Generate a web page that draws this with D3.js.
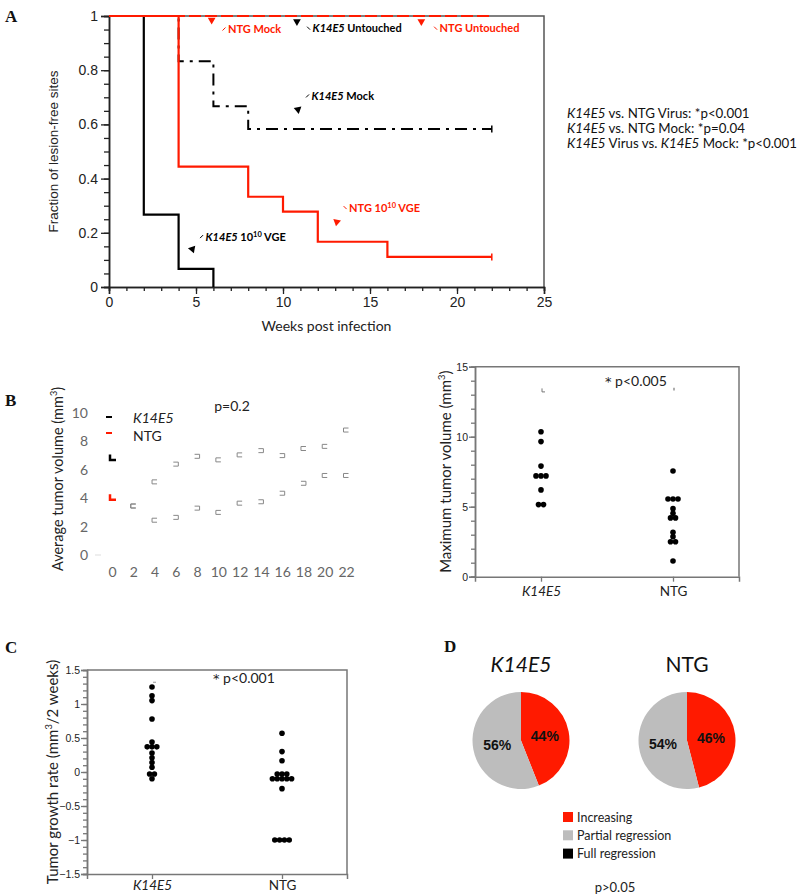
<!DOCTYPE html>
<html><head><meta charset="utf-8">
<script src="https://cdn.jsdelivr.net/npm/d3@7"></script>
<style>body{margin:0;background:#fff}svg{display:block}</style>
</head><body>
<svg id="c" width="800" height="895"></svg>
<script>
// ================= DATA =================
// Panel A: Kaplan-Meier style step curves
const aTicksX = [0, 5, 10, 15, 20, 25];
const aTicksY = [0, 0.2, 0.4, 0.6, 0.8, 1];
const k14VgeTimes = [0, 2, 4, 6];
const k14VgeSurv  = [1, 0.267, 0.067, 0];
const ntgVgeTimes = [0, 4, 8, 10, 12, 16, 22];
const ntgVgeSurv  = [1, 0.444, 0.333, 0.278, 0.167, 0.111, 0.111];
const k14MockTimes = [0, 4, 6, 8, 22];
const k14MockSurv  = [1, 0.833, 0.667, 0.583, 0.583];
const ntgMockTimes = [0, 22];
const ntgMockSurv  = [1, 1];
const statLines = [
  [["K14E5", true], [" vs. NTG Virus: *p<0.001", false]],
  [["K14E5", true], [" vs. NTG Mock: *p=0.04", false]],
  [["K14E5", true], [" Virus vs. ", false], ["K14E5", true], [" Mock: *p<0.001", false]]
];
// annotation labels (arrow tip and label anchor in data units)
const annotations = [
  {parts: [["NTG Mock", false]], red: true, ax: 5.9, ay: 0.985, tx: 6.84, ty: 0.952, rot: 180, slash: "/"},
  {parts: [["K14E5", true], [" Untouched", false]], red: false, ax: 10.8, ay: 0.98, tx: 11.7, ty: 0.955, rot: 180, slash: "\\"},
  {parts: [["NTG Untouched", false]], red: true, ax: 17.95, ay: 0.98, tx: 19.0, ty: 0.955, rot: 180, slash: "\\"},
  {parts: [["K14E5", true], [" Mock", false]], red: false, ax: 10.86, ay: 0.655, tx: 11.64, ty: 0.705, rot: 50, slash: "/"},
  {parts: [["NTG 10", false], ["10", "sup"], [" VGE", false]], red: true, ax: 13.09, ay: 0.24, tx: 13.8, ty: 0.293, rot: 70, slash: "\\"},
  {parts: [["K14E5", true], [" 10", false], ["10", "sup"], [" VGE", false]], red: false, ax: 4.79, ay: 0.14, tx: 5.55, ty: 0.186, rot: 40, slash: "/"}
];

// Panel B (left): average tumor volume over time
const bWeeks = [0, 2, 4, 6, 8, 10, 12, 14, 16, 18, 20, 22];
const bYTicks = [0, 2, 4, 6, 8, 10];
const bK14Avg = [6.8, 3.45, 5.15, 6.4, 6.95, 6.7, 7.05, 7.35, 7.0, 7.5, 7.65, 8.8];
const bNtgAvg = [4.0, 3.45, 2.45, 2.65, 3.3, 3.0, 3.65, 3.75, 4.35, 5.05, 5.6, 5.6];
const bK14Open = ["r", "r", "r", "l", "l", "r", "r", "l", "l", "r", "r", "r"];
const bNtgOpen = ["r", "r", "r", "l", "l", "r", "r", "l", "l", "l", "r", "r"];

// Panel B (right): maximum tumor volume
const groups = ["K14E5", "NTG"];
const maxK14 = [10.35, 9.65, 7.9, 7.2, 7.2, 7.2, 6.2, 5.15, 5.15];
const maxNtg = [7.55, 5.55, 5.55, 5.55, 4.86, 4.53, 4.2, 4.2, 3.17, 2.86, 2.5, 2.5, 1.12];
const maxTicks = [0, 5, 10, 15];

// Panel C: tumor growth rate
const grK14 = [1.25, 1.12, 1.05, 0.78, 0.44, 0.37, 0.37, 0.37, 0.28, 0.21, 0.14, 0.07, -0.03, -0.03, -0.1];
const grNtg = [0.57, 0.3, 0.165, -0.03, -0.03, -0.03, -0.1, -0.1, -0.1, -0.1, -0.1, -0.245, -1, -1, -1, -1];
const grTicks = [-1.5, -1, -0.5, 0, 0.5, 1, 1.5];

// Panel D: outcome pies
const outcomes = ["Increasing", "Partial regression", "Full regression"];
const pieK14 = [44, 56, 0];
const pieNtg = [46, 54, 0];

// ================= DRAW =================
const svg = d3.select("#c");
const SANS = "'Liberation Sans', Arial, sans-serif";
const CAL = "Lato, 'Open Sans', sans-serif";
const RED = "#ff1a00";

function richText(sel, parts, supSize) {
  let pending = 0;
  parts.forEach(([t, f]) => {
    if (f === "sup") {
      sel.append("tspan").attr("font-size", supSize).attr("dy", pending - 4).text(t);
      pending = 4;
    } else {
      sel.append("tspan").attr("font-style", f ? "italic" : "normal").attr("dy", pending).text(t);
      pending = 0;
    }
  });
  return sel;
}
function panelLetter(t, x, y) {
  svg.append("text").attr("x", x).attr("y", y).text(t)
    .attr("font-family", "'Liberation Serif', 'Times New Roman', serif")
    .attr("font-weight", "bold").attr("font-size", 17).attr("fill", "#111");
}
function styleAxis(g, col, fs, fam) {
  g.selectAll(".domain").attr("stroke", col).attr("stroke-width", 1.5);
  g.selectAll(".tick line").attr("stroke", col).attr("stroke-width", 1.3);
  g.selectAll(".tick text").attr("fill", "#222").attr("font-size", fs).attr("font-family", fam);
}
function unitLabel(t, before, after, size) {
  t.append("tspan").text(before);
  t.append("tspan").attr("font-size", size * 0.62).attr("dy", -6).text("3");
  t.append("tspan").attr("dy", 6).text(after);
}
function statText(sel, s) {
  sel.append("tspan").attr("font-family", "'DejaVu Sans', sans-serif").attr("font-size", 13).text("*");
  sel.append("tspan").text(s);
}

// ---------- Panel A ----------
panelLetter("A", 5, 22);
const xA = d3.scaleLinear([0, 25], [109, 544]);
const yA = d3.scaleLinear([0, 1], [287, 16]);
const gA = svg.append("g");
gA.append("path").attr("d", `M${xA(0)},${yA(1)}H${xA(25)}V${yA(0)}`)
  .attr("fill", "none").attr("stroke", "#555").attr("stroke-width", 1.5);
gA.append("g").attr("transform", `translate(0,${yA(0)})`)
  .call(d3.axisBottom(xA).tickValues(d3.range(0, 26, 1)).tickSize(4).tickFormat(""))
  .call(g => styleAxis(g, "#222", 13, SANS));
gA.append("g").attr("transform", `translate(0,${yA(0)})`)
  .call(d3.axisBottom(xA).tickValues(aTicksX).tickSize(7).tickPadding(3).tickFormat(d3.format("d")))
  .call(g => styleAxis(g, "#222", 14, SANS));
gA.append("g").attr("transform", `translate(${xA(0)},0)`)
  .call(d3.axisLeft(yA).tickValues(d3.range(0, 1.001, 0.05)).tickSize(5).tickFormat(""))
  .call(g => styleAxis(g, "#222", 13, SANS));
gA.append("g").attr("transform", `translate(${xA(0)},0)`)
  .call(d3.axisLeft(yA).tickValues(aTicksY).tickSize(8).tickPadding(3).tickFormat(d => d === 0 || d === 1 ? d3.format("d")(d) : d3.format(".1f")(d)))
  .call(g => styleAxis(g, "#222", 14, SANS));
gA.append("text").attr("transform", `translate(58,${(yA(0) + yA(1)) / 2}) rotate(-90)`)
  .attr("text-anchor", "middle").attr("font-family", SANS).attr("font-size", 13.5).attr("fill", "#222")
  .text("Fraction of lesion-free sites");
gA.append("text").attr("x", (xA(0) + xA(25)) / 2).attr("y", 331).attr("text-anchor", "middle")
  .attr("font-family", CAL).attr("font-size", 14).attr("fill", "#222").text("Weeks post infection");

const stepLine = d3.line().curve(d3.curveStepAfter);
function km(times, surv, color, dash, width) {
  const pts = times.map((t, i) => [xA(t), yA(surv[i])]);
  gA.append("path").attr("d", stepLine(pts)).attr("fill", "none")
    .attr("stroke", color).attr("stroke-width", width).attr("stroke-dasharray", dash);
}
km(ntgMockTimes, ntgMockSurv, RED, "12,4", 2);
km(k14VgeTimes, k14VgeSurv, "#000", null, 2.2);
km(k14MockTimes, k14MockSurv, "#000", "12,6,3,6", 2);
km(ntgVgeTimes, ntgVgeSurv, RED, null, 2.2);
[[k14MockTimes, k14MockSurv, "#000"], [ntgVgeTimes, ntgVgeSurv, RED]].forEach(([t, s, c]) => {
  const i = t.length - 1;
  gA.append("line").attr("x1", xA(t[i])).attr("x2", xA(t[i]))
    .attr("y1", yA(s[i]) - 3.5).attr("y2", yA(s[i]) + 3.5).attr("stroke", c).attr("stroke-width", 1.5);
});
const tri = d3.symbol(d3.symbolTriangle, 26);
annotations.forEach(a => {
  const col = a.red ? RED : "#000";
  gA.append("path").attr("d", tri())
    .attr("transform", `translate(${xA(a.ax)},${yA(a.ay)}) rotate(${a.rot})`).attr("fill", col);
  const sx = xA(a.tx) - 4, sy = yA(a.ty);
  gA.append("line").attr("x1", sx - 1.5).attr("x2", sx + 1.5)
    .attr("y1", a.slash === "/" ? sy + 1.5 : sy - 1.5).attr("y2", a.slash === "/" ? sy - 1.5 : sy + 1.5)
    .attr("stroke", col).attr("stroke-width", 1);
  const t = gA.append("text").attr("x", xA(a.tx)).attr("y", sy + 4)
    .attr("font-family", CAL).attr("font-weight", "bold").attr("font-size", 11).attr("fill", col);
  richText(t, a.parts, 7.5);
});
statLines.forEach((ln, i) => {
  const t = svg.append("text").attr("x", 567).attr("y", 118 + i * 15)
    .attr("font-family", CAL).attr("font-size", 13.3).attr("fill", "#111");
  richText(t, ln, 9);
});

// ---------- Panel B left ----------
panelLetter("B", 5, 406);
const xB = d3.scaleLinear([0, 22], [112, 346]);
const yB = d3.scaleLinear([0, 10], [555, 413]);
const gB = svg.append("g");
gB.append("g").attr("transform", `translate(${xB(0) - 24},0)`)
  .call(d3.axisLeft(yB).tickValues(bYTicks).tickSize(0).tickPadding(0))
  .call(g => { g.select(".domain").remove(); g.selectAll("text").attr("fill", "#666").attr("font-size", 14).attr("font-family", CAL); });
gB.append("g").attr("transform", `translate(0,${567})`)
  .call(d3.axisBottom(xB).tickValues(bWeeks).tickSize(0).tickPadding(0))
  .call(g => { g.select(".domain").remove(); g.selectAll("text").attr("fill", "#666").attr("font-size", 14).attr("font-family", CAL); });
gB.append("line").attr("x1", xB(0) - 17).attr("x2", xB(0) - 11).attr("y1", yB(0)).attr("y2", yB(0))
  .attr("stroke", "#ddd").attr("stroke-width", 1);
gB.append("text").attr("transform", `translate(63,${479}) rotate(-90)`).attr("text-anchor", "middle")
  .attr("font-family", CAL).attr("font-size", 14.5).attr("fill", "#222")
  .call(t => unitLabel(t, "Average tumor volume (mm", ")", 14.5));
gB.append("text").attr("x", 232).attr("y", 411).attr("text-anchor", "middle")
  .attr("font-family", CAL).attr("font-size", 14).attr("fill", "#222").text("p=0.2");
function bracket(x, y, open) {
  const s = open === "r" ? 1 : -1;
  return `M${x + 2.5 * s},${y - 2}H${x - 2.5 * s}V${y + 2}H${x + 2.5 * s}`;
}
[[bK14Avg, bK14Open], [bNtgAvg, bNtgOpen]].forEach(([vals, open]) => {
  vals.forEach((v, i) => {
    if (i === 0) return;
    gB.append("path").attr("d", bracket(xB(bWeeks[i]), yB(v), open[i]))
      .attr("fill", "none").attr("stroke", "#888").attr("stroke-width", 1);
  });
});
[[bK14Avg[0], "#000"], [bNtgAvg[0], RED]].forEach(([v, c]) => {
  const x = xB(0), y = yB(v);
  gB.append("path").attr("d", `M${x - 2},${y - 4}V${y + 1.5}H${x + 4}`)
    .attr("fill", "none").attr("stroke", c).attr("stroke-width", 2.5);
});
[["K14E5", true, "#000", 417, 423], ["NTG", false, RED, 433, 441]].forEach(([t, it, c, my, ty]) => {
  gB.append("line").attr("x1", 106).attr("x2", 112).attr("y1", my).attr("y2", my).attr("stroke", c).attr("stroke-width", 2);
  gB.append("text").attr("x", 133).attr("y", ty).attr("font-family", CAL).attr("font-size", 14)
    .attr("font-style", it ? "italic" : "normal").attr("fill", "#222").text(t);
});

// ---------- swarm helper ----------
function swarm(vals, spacing) {
  const counts = d3.rollup(vals, v => v.length, d => d);
  const seen = new Map();
  return vals.map(v => {
    const n = counts.get(v), k = seen.get(v) || 0; seen.set(v, k + 1);
    return {v, off: (k - (n - 1) / 2) * spacing};
  });
}
function dotPanel(opts) {
  const {x0, x1, y0, y1, domain, ticks, minorStep, data, spacing, label, stat, statX, statY, fmt, labelX, labelSize, catPad} = opts;
  const g = svg.append("g");
  const x = d3.scalePoint(groups, [x0, x1]).padding(0.5);
  const y = d3.scaleLinear(domain, [y0, y1]);
  g.append("path").attr("d", `M${x0},${y1}H${x1}V${y0}`).attr("fill", "none").attr("stroke", "#777").attr("stroke-width", 1.5);
  g.append("g").attr("transform", `translate(${x0},0)`)
    .call(d3.axisLeft(y).tickValues(d3.range(domain[0], domain[1] + 1e-9, minorStep)).tickSize(4).tickFormat(""))
    .call(gg => styleAxis(gg, "#777", 10, SANS));
  g.append("g").attr("transform", `translate(${x0},0)`)
    .call(d3.axisLeft(y).tickValues(ticks).tickSize(6).tickPadding(1).tickFormat(fmt))
    .call(gg => styleAxis(gg, "#777", 10.5, SANS));
  g.append("g").attr("transform", `translate(0,${y0})`)
    .call(d3.axisBottom(x).tickSize(5).tickPadding(catPad))
    .call(gg => {
      styleAxis(gg, "#777", 13.5, CAL);
      gg.selectAll(".tick text").attr("font-style", d => d === "K14E5" ? "italic" : "normal");
    });
  data.forEach((vals, gi) => {
    swarm(vals, spacing).forEach(d => {
      g.append("circle").attr("cx", x(groups[gi]) + d.off).attr("cy", y(d.v)).attr("r", 2.8).attr("fill", "#000");
    });
  });
  g.append("text").attr("transform", `translate(${labelX},${(y0 + y1) / 2}) rotate(-90)`).attr("text-anchor", "middle")
    .attr("font-family", CAL).attr("font-size", labelSize).attr("fill", "#222")
    .call(t => unitLabel(t, label[0], label[1], labelSize));
  g.append("text").attr("x", statX).attr("y", statY).attr("font-family", CAL).attr("font-size", 14).attr("fill", "#222")
    .call(t => statText(t, stat));
  return {g, x, y};
}

// ---------- Panel B right ----------
const pBR = dotPanel({x0: 475, x1: 739, y0: 576.7, y1: 366.7, domain: [0, 15], ticks: maxTicks, minorStep: 1,
  data: [maxK14, maxNtg], spacing: 5, label: ["Maximum tumor volume (mm", ")"],
  stat: " p<0.005", statX: 605, statY: 386, fmt: d3.format("d"), labelX: 451, labelSize: 15, catPad: 5});
pBR.g.append("path").attr("d", `M${pBR.x("K14E5") + 1},${pBR.y(13.45)}V${pBR.y(13.2)}H${pBR.x("K14E5") + 4}`)
  .attr("fill", "none").attr("stroke", "#777").attr("stroke-width", 1);
pBR.g.append("line").attr("x1", pBR.x("NTG") + 1).attr("x2", pBR.x("NTG") + 1).attr("y1", pBR.y(13.5)).attr("y2", pBR.y(13.3))
  .attr("stroke", "#777").attr("stroke-width", 1.2);

// ---------- Panel C ----------
panelLetter("C", 5, 653);
const pC = dotPanel({x0: 87, x1: 347, y0: 874, y1: 670, domain: [-1.5, 1.5], ticks: grTicks, minorStep: 0.1,
  data: [grK14, grNtg], spacing: 4.8, label: ["Tumor growth rate (mm", "/2 weeks)"],
  stat: " p<0.001", statX: 213, statY: 683, fmt: d => d3.format("")(d), labelX: 58, labelSize: 15, catPad: 1});
pC.g.append("line").attr("x1", pC.x("K14E5") + 1).attr("x2", pC.x("K14E5") + 4).attr("y1", pC.y(1.32)).attr("y2", pC.y(1.32))
  .attr("stroke", "#999").attr("stroke-width", 1);

// ---------- Panel D ----------
panelLetter("D", 444, 652);
const pieColors = d3.scaleOrdinal(outcomes, [RED, "#bdbdbd", "#000"]);
const pie = d3.pie().sort(null);
const arc = d3.arc().innerRadius(0).outerRadius(48.5);
[["K14E5", true, pieK14, 521], ["NTG", false, pieNtg, 687]].forEach(([name, it, vals, cx]) => {
  const g = svg.append("g").attr("transform", `translate(${cx},740.5)`);
  const arcs = pie(vals);
  g.selectAll("path").data(arcs.filter(d => d.value > 0)).join("path")
    .attr("d", arc).attr("fill", d => pieColors(outcomes[d.index]));
  g.selectAll("text.pl").data(arcs.filter(d => d.value > 0)).join("text")
    .attr("transform", d => `translate(${arc.centroid(d)})`).attr("text-anchor", "middle").attr("dy", "0.36em")
    .attr("font-family", SANS).attr("font-weight", "bold").attr("font-size", 14).attr("fill", "#111")
    .text(d => d.value + "%");
  svg.append("text").attr("x", cx).attr("y", 672).attr("text-anchor", "middle")
    .attr("font-family", CAL).attr("font-size", 21).attr("font-style", it ? "italic" : "normal").attr("fill", "#111").text(name);
});
outcomes.forEach((o, i) => {
  const y = 817 + i * 18.3;
  svg.append("rect").attr("x", 563).attr("y", y - 5).attr("width", 10).attr("height", 10).attr("fill", pieColors(o));
  svg.append("text").attr("x", 577).attr("y", y + 4.5).attr("font-family", CAL).attr("font-size", 12.5).attr("fill", "#222").text(o);
});
svg.append("text").attr("x", 615).attr("y", 892).attr("text-anchor", "middle")
  .attr("font-family", CAL).attr("font-size", 13).attr("fill", "#222").text("p>0.05");
</script>
</body></html>
